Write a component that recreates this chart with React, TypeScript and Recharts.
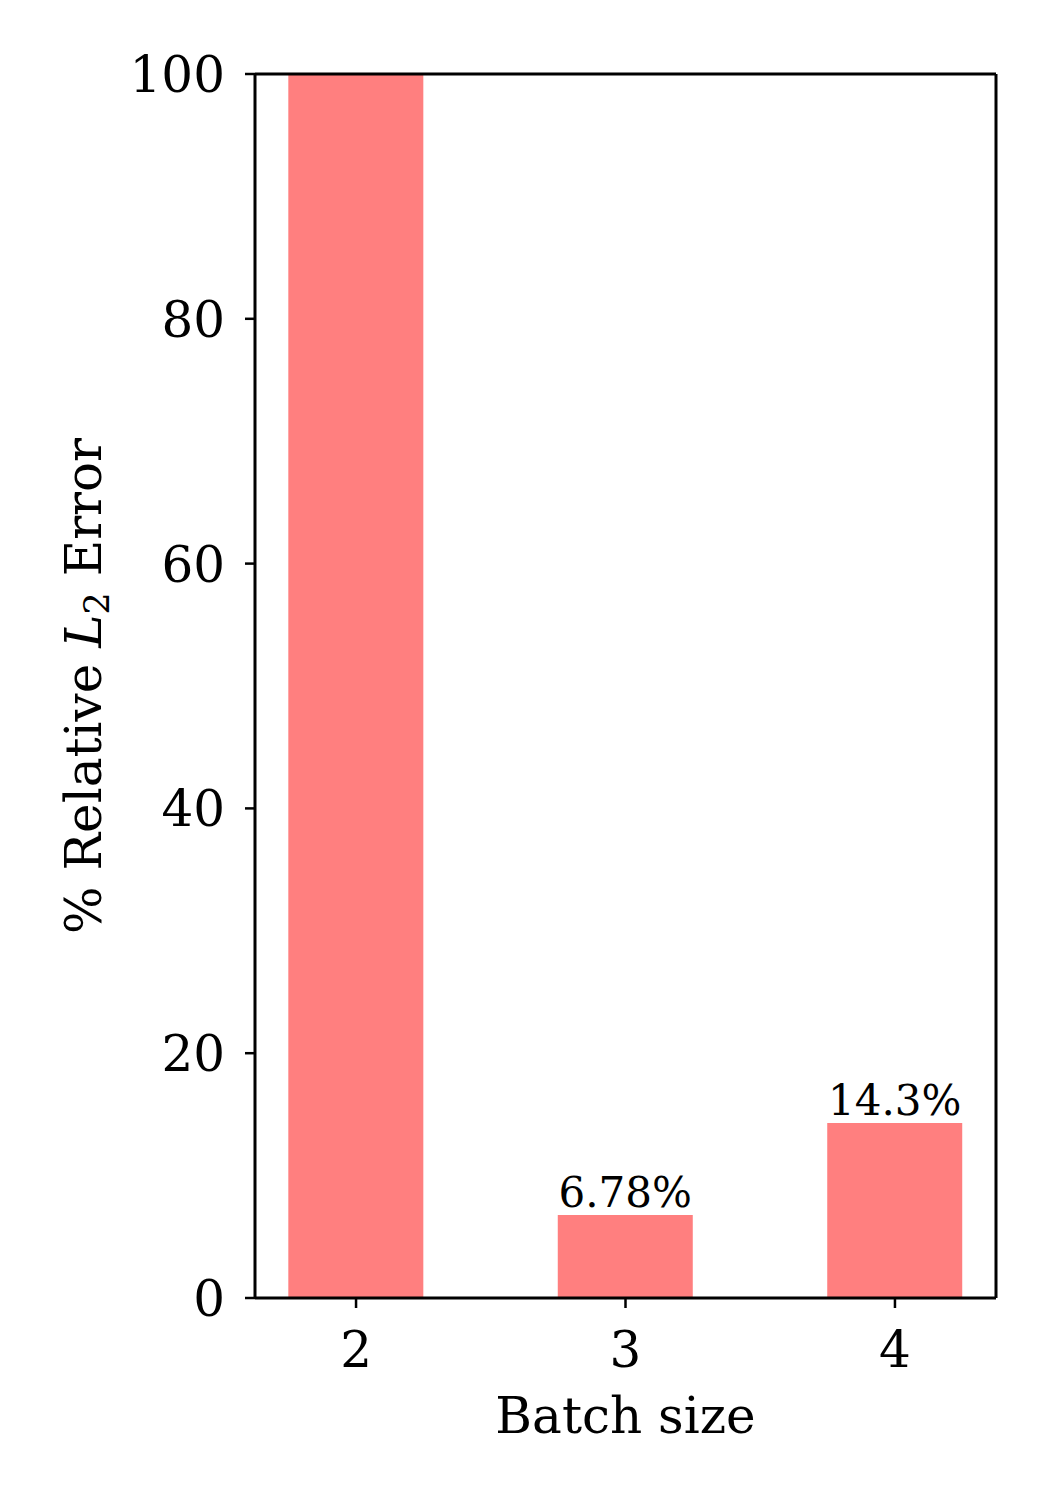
import React from 'react';
import {
  BarChart,
  Bar,
  XAxis,
  YAxis,
  LabelList,
  ReferenceLine
} from 'recharts';

// batch sizes and the % relative L2 error for each (batch 2 runs off the top of the axis)
const batchSizes = [2, 3, 4];
const errorValues = [118, 6.78, 14.3];
const barLabels = ['', '6.78%', '14.3%'];
const yTicks = [0, 20, 40, 60, 80, 100];

const data = batchSizes.map((b, i) => ({
  batch: b,
  error: errorValues[i],
  label: barLabels[i]
}));

const FONT = '"DejaVu Serif", serif';

const XTick = ({ x, y, payload }: any) => (
  <text x={x} y={y + 57} textAnchor="middle" fontFamily={FONT} fontSize={50} fill="#000">
    {payload.value}
  </text>
);

const YTick = ({ x, y, payload }: any) => (
  <text x={x - 18} y={y} dy="0.36em" textAnchor="end" fontFamily={FONT} fontSize={50} fill="#000">
    {payload.value}
  </text>
);

// bar value text, drawn just above each bar
const BarValue = ({ x, y, width, index }: any) => {
  const txt = barLabels[index];
  if (!txt) return null;
  return (
    <text x={x + width / 2} y={y - 8} textAnchor="middle" fontFamily={FONT} fontSize={42} fill="#000">
      {txt}
    </text>
  );
};

const YLabel = ({ viewBox }: any) => {
  const cy = viewBox.y + viewBox.height / 2;
  const cx = 101;
  return (
    <text
      x={cx}
      y={cy}
      transform={`rotate(-90, ${cx}, ${cy})`}
      textAnchor="middle"
      fontFamily={FONT}
      fontSize={50}
      fill="#000"
    >
      % Relative <tspan fontStyle="italic">L</tspan>
      <tspan fontSize={35} dy={8}>2</tspan>
      <tspan dy={-8}> Error</tspan>
    </text>
  );
};

const App: React.FC = () => {
  return (
    <div style={{ position: 'absolute', left: 0, top: 0, width: 1050, height: 1500, background: '#fff' }}>
      <BarChart
        width={1050}
        height={1500}
        data={data}
        margin={{ top: 74, right: 54, bottom: 0, left: 0 }}
      >
        <XAxis
          dataKey="batch"
          type="number"
          domain={[1.625, 4.375]}
          ticks={batchSizes}
          allowDataOverflow
          height={202}
          tickSize={10}
          tick={<XTick />}
          stroke="#000"
          strokeWidth={3}
          tickLine={{ stroke: '#000', strokeWidth: 2.5 }}
          label={{ value: 'Batch size', position: 'insideBottom', offset: 0, dy: -67, fontFamily: FONT, fontSize: 50, fill: '#000' }}
        />
        <YAxis
          type="number"
          domain={[0, 100]}
          ticks={yTicks}
          allowDataOverflow
          width={255}
          tickSize={10}
          tick={<YTick />}
          stroke="#000"
          strokeWidth={3}
          tickLine={{ stroke: '#000', strokeWidth: 2.5 }}
          label={<YLabel />}
        />
        <Bar dataKey="error" fill="#ff7f7f" barSize={135} isAnimationActive={false}>
          <LabelList dataKey="label" content={<BarValue />} />
        </Bar>
        <ReferenceLine y={100} stroke="#000" strokeWidth={3} />
        <ReferenceLine x={4.375} stroke="#000" strokeWidth={3} />
      </BarChart>
    </div>
  );
};

export default App;
